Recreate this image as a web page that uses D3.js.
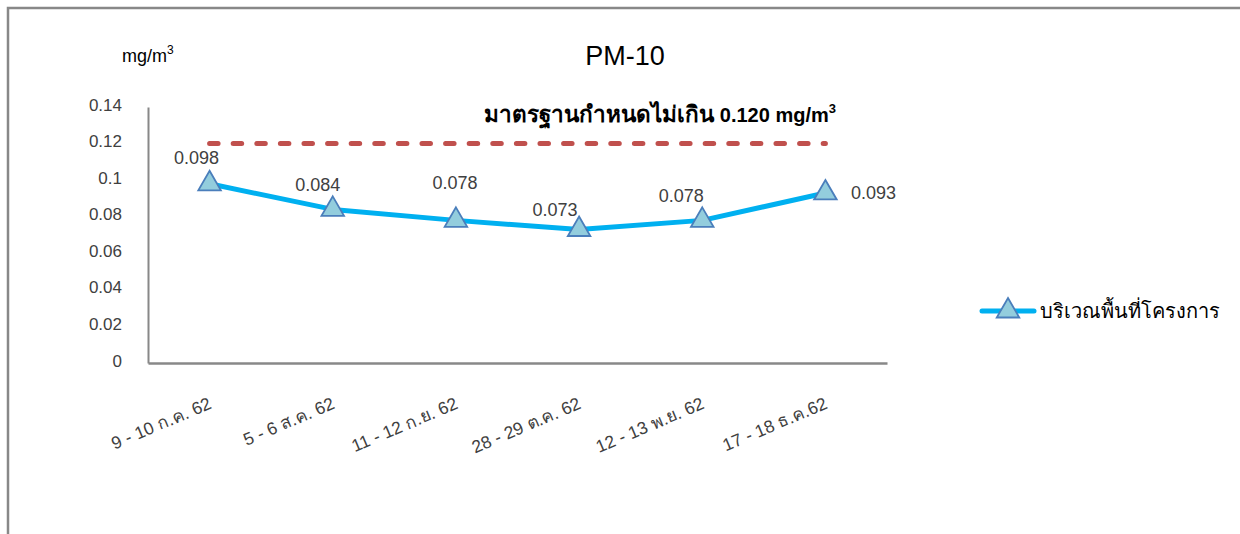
<!DOCTYPE html>
<html>
<head>
<meta charset="utf-8">
<script src="https://cdn.jsdelivr.net/npm/d3@7"></script>
<style>
  html, body { margin: 0; padding: 0; background: #fff; }
  svg { display: block; }
  text { font-family: "Liberation Sans", Arial, sans-serif; }
</style>
</head>
<body>
<svg id="chart" width="1240" height="534"></svg>
<script>
// PM-10 measurements around the project site
const categories = ["9 - 10 ก.ค. 62", "5 - 6 ส.ค. 62", "11 - 12 ก.ย. 62", "28 - 29 ต.ค. 62", "12 - 13 พ.ย. 62", "17 - 18 ธ.ค.62"];
const siteValues = [0.098, 0.084, 0.078, 0.073, 0.078, 0.093];
const standardValues = [0.120, 0.120, 0.120, 0.120, 0.120, 0.120];
const yTicks = [0, 0.02, 0.04, 0.06, 0.08, 0.1, 0.12, 0.14];
const seriesName = "บริเวณพื้นที่โครงการ";
const standardLabelThai = "มาตรฐานกำหนดไม่เกิน ";
const standardLabelUnit = "0.120 mg/m";

// hand-placed offsets of each value label from its marker (dx, dy of text centre)
const labelOffsets = [[-13, -26], [-15, -25], [-1, -38], [-24, -20], [-21, -25], [48, 0]];

const svg = d3.select("#chart");
const plot = { left: 148, right: 887, top: 107, bottom: 363 };

// outer frame (only top and left edges fall inside the view)
svg.append("path")
  .attr("d", "M8,534 L8,8 L1240,8")
  .attr("fill", "none").attr("stroke", "#888").attr("stroke-width", 2.5);

const x = d3.scaleBand().domain(categories).range([plot.left, plot.right]);
const y = d3.scaleLinear().domain([0, 0.14]).range([plot.bottom, plot.top]);
const cx = d => x(d) + x.bandwidth() / 2;

// axes
const yAxis = svg.append("g").attr("transform", `translate(${plot.left},0)`)
  .call(d3.axisLeft(y).tickValues(yTicks).tickSize(0).tickPadding(26)
    .tickFormat(d => d3.format("")(+d.toFixed(2))));
yAxis.select(".domain").attr("stroke", "#888").attr("stroke-width", 2);
yAxis.selectAll("text").attr("font-size", 17).attr("fill", "#404040").attr("dy", "0.18em");

const xAxis = svg.append("g").attr("transform", `translate(0,${plot.bottom})`)
  .call(d3.axisBottom(x).tickSize(0).tickPadding(0));
xAxis.select(".domain").attr("stroke", "#888").attr("stroke-width", 2.5);
xAxis.selectAll("text")
  .attr("font-size", 17.5).attr("fill", "#404040")
  .attr("text-anchor", "end")
  .attr("transform", "translate(3,45) rotate(-23)")
  .attr("dy", "0");

// standard limit line
svg.append("path")
  .datum(standardValues)
  .attr("d", d3.line().x((d, i) => cx(categories[i])).y(d => y(d)))
  .attr("fill", "none").attr("stroke", "#c0504d").attr("stroke-width", 5)
  .attr("stroke-dasharray", "8.5,15.1").attr("stroke-linecap", "round");

// measured series
svg.append("path")
  .datum(siteValues)
  .attr("d", d3.line().x((d, i) => cx(categories[i])).y(d => y(d)))
  .attr("fill", "none").attr("stroke", "#00b0f0").attr("stroke-width", 5)
  .attr("stroke-linejoin", "round");

const tri = d3.symbol().type(d3.symbolTriangle).size(220);
svg.selectAll(".marker").data(siteValues).enter().append("path")
  .attr("class", "marker")
  .attr("d", tri)
  .attr("transform", (d, i) => `translate(${cx(categories[i])},${y(d)})`)
  .attr("fill", "#93cddd").attr("stroke", "#4a7ebb").attr("stroke-width", 1.8);

// value labels
svg.selectAll(".val").data(siteValues).enter().append("text")
  .attr("class", "val")
  .attr("x", (d, i) => cx(categories[i]) + labelOffsets[i][0])
  .attr("y", (d, i) => y(d) + labelOffsets[i][1])
  .attr("dy", "0.35em")
  .attr("text-anchor", "middle").attr("font-size", 18).attr("fill", "#404040")
  .text(d => d3.format(".3f")(d));

// titles
svg.append("text").attr("x", 625).attr("y", 65).attr("text-anchor", "middle")
  .attr("font-size", 27).attr("fill", "#000").text("PM-10");

const unit = svg.append("text").attr("x", 122).attr("y", 62).attr("font-size", 18).attr("fill", "#000");
unit.append("tspan").text("mg/m");
unit.append("tspan").attr("font-size", 12).attr("dy", -8).text("3");

const std = svg.append("text").attr("x", 836).attr("y", 122).attr("text-anchor", "end")
  .attr("font-weight", "bold").attr("fill", "#000");
std.append("tspan").attr("font-size", 22.5).text(standardLabelThai);
std.append("tspan").attr("font-size", 20).text(standardLabelUnit);
std.append("tspan").attr("font-size", 13).attr("dy", -9).text("3");

// legend
const lg = svg.append("g").attr("transform", "translate(0,311)");
lg.append("line").attr("x1", 982).attr("x2", 1034).attr("y1", 0).attr("y2", 0)
  .attr("stroke", "#00b0f0").attr("stroke-width", 5).attr("stroke-linecap", "round");
lg.append("path").attr("d", tri).attr("transform", "translate(1008,0)")
  .attr("fill", "#93cddd").attr("stroke", "#4a7ebb").attr("stroke-width", 1.8);
lg.append("text").attr("x", 1040).attr("y", 7).attr("font-size", 20).attr("fill", "#000").text(seriesName);
</script>
</body>
</html>
